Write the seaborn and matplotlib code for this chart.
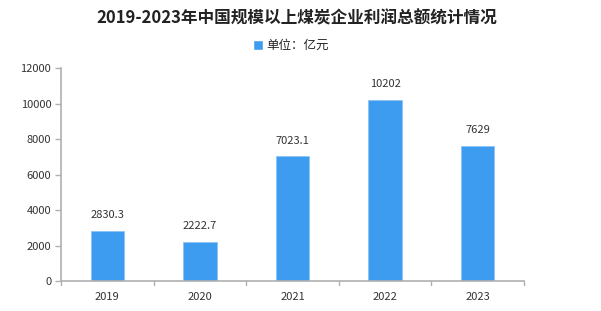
import matplotlib
matplotlib.use("Agg")
import matplotlib.pyplot as plt
import seaborn as sns
import pandas as pd
from matplotlib.patches import Patch

years = ["2019", "2020", "2021", "2022", "2023"]
profits = [2830.3, 2222.7, 7023.1, 10202, 7629]
labels = ["2830.3", "2222.7", "7023.1", "10202", "7629"]
yticks = [0, 2000, 4000, 6000, 8000, 10000, 12000]

sns.set_theme(style="white")
plt.rcParams['font.family'] = ['Noto Sans CJK SC', 'DejaVu Sans']

df = pd.DataFrame({"year": years, "profit": profits})
color = "#3d9cf0"

fig = plt.figure(figsize=(6.01, 3.11), dpi=100)
ax = fig.add_axes([0.1015, 0.0965, 0.7705, 0.6845])
sns.barplot(data=df, x="year", y="profit", color=color, width=0.36, ax=ax,
            saturation=1, edgecolor="#8cc4f5", linewidth=0.6)

ax.set_ylim(0, 12000)
ax.set_xlim(-0.5, len(years) - 0.5)
ax.set_yticks(yticks)
ax.set_yticklabels([str(v) for v in yticks], fontsize=8, color="#333333")
ax.set_xticks(range(len(years)))
ax.set_xticklabels(years, fontsize=8, color="#333333")
ax.tick_params(axis="x", length=0, pad=8)
ax.tick_params(axis="y", length=4, color="#b0b0b0", width=1, left=True, pad=3)
# boundary ticks on x-axis
for b in [i - 0.5 for i in range(len(years) + 1)]:
    ax.plot([b, b], [0, -0.018], transform=ax.get_xaxis_transform(), clip_on=False,
            color="#b0b0b0", lw=1)
ax.set_xlabel("")
ax.set_ylabel("")
for s in ["top", "right"]:
    ax.spines[s].set_visible(False)
for s in ["left", "bottom"]:
    ax.spines[s].set_color("#b0b0b0")
    ax.spines[s].set_linewidth(1.2)

for i, (v, t) in enumerate(zip(profits, labels)):
    ax.text(i, v + 600, t, ha="center", va="bottom", fontsize=8, color="#333333")

fig.text(0.494, 0.94, "2019-2023年中国规模以上煤炭企业利润总额统计情况", ha="center", va="center",
         fontsize=12, fontweight="bold", color="#222222")
fig.legend(handles=[Patch(facecolor=color, label="单位：亿元")], loc="center",
           bbox_to_anchor=(0.484, 0.853), frameon=False, fontsize=9,
           handlelength=0.8, handleheight=0.8, handletextpad=0.3)

fig.savefig("out.png", dpi=100)
